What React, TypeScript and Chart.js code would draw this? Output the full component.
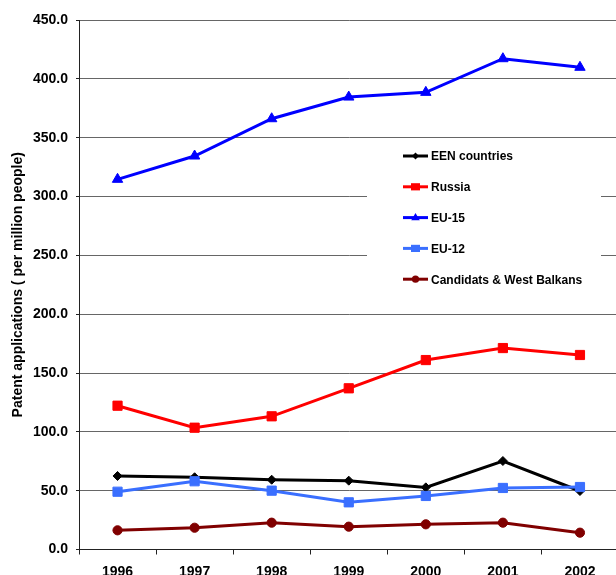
import React, { useEffect, useRef } from 'react';
import { Chart, registerables } from 'chart.js';

Chart.register(...registerables);

const years = ['1996', '1997', '1998', '1999', '2000', '2001', '2002'];
const eenCountries = [62.5, 61.4, 59.3, 58.5, 52.8, 75.2, 49.7];
const russia = [122.2, 103.5, 113.2, 137.0, 161.0, 171.2, 165.3];
const eu15 = [314.6, 334.4, 366.1, 384.5, 388.5, 417.1, 409.8];
const eu12 = [49.1, 58.0, 50.0, 40.1, 45.5, 52.3, 53.1];
const candidats = [16.3, 18.5, 22.8, 19.4, 21.4, 22.8, 14.3];
const seriesLabels = ['EEN countries', 'Russia', 'EU-15', 'EU-12', 'Candidats & West Balkans'];
const yTitle = 'Patent applications ( per million people)';
const yMin = 0;
const yMax = 450;
const yStep = 50;

const FONT = '"Liberation Sans", Arial, sans-serif';

function drawMarker(ctx: CanvasRenderingContext2D, style: string, x: number, y: number, r: number, color: string) {
  ctx.save();
  ctx.fillStyle = color;
  ctx.beginPath();
  if (style === 'rect') {
    ctx.rect(x - r, y - r * 0.8, 2 * r, 1.6 * r);
  } else if (style === 'rectRot') {
    ctx.moveTo(x, y - r);
    ctx.lineTo(x + r, y);
    ctx.lineTo(x, y + r);
    ctx.lineTo(x - r, y);
    ctx.closePath();
  } else if (style === 'triangle') {
    ctx.moveTo(x, y - r);
    ctx.lineTo(x + r * 0.95, y + r * 0.6);
    ctx.lineTo(x - r * 0.95, y + r * 0.6);
    ctx.closePath();
  } else {
    ctx.arc(x, y, r, 0, Math.PI * 2);
  }
  ctx.fill();
  ctx.restore();
}

const boxLegend = {
  id: 'boxLegend',
  beforeDatasetsDraw(chart: any) {
    const ctx: CanvasRenderingContext2D = chart.ctx;
    ctx.save();
    ctx.fillStyle = '#ffffff';
    ctx.fillRect(367, 141, 234, 166);
    chart.data.datasets.forEach((ds: any, i: number) => {
      const y = 156 + i * 30.8;
      ctx.strokeStyle = ds.borderColor;
      ctx.lineWidth = 3;
      ctx.beginPath();
      ctx.moveTo(403, y);
      ctx.lineTo(428, y);
      ctx.stroke();
      const mr = ds.pointStyle === 'rectRot' ? 3.5 : ds.pointStyle === 'circle' ? 3.6 : 4.5;
      drawMarker(ctx, ds.pointStyle, 415.5, y, mr, ds.borderColor);
      ctx.fillStyle = '#000';
      ctx.font = 'bold 12px ' + FONT;
      ctx.textBaseline = 'middle';
      ctx.textAlign = 'left';
      ctx.fillText(ds.label, 431, y + 1);
    });
    ctx.restore();
  },
};

export default function App() {
  const ref = useRef<HTMLCanvasElement | null>(null);

  useEffect(() => {
    if (!ref.current) return;
    const mk = (label: string, data: number[], color: string, style: string, radius: number, order: number) => ({
      label,
      data,
      borderColor: color,
      backgroundColor: color,
      pointBackgroundColor: color,
      pointBorderColor: color,
      pointBorderWidth: 1,
      pointStyle: style,
      pointRadius: radius,
      borderWidth: 3,
      tension: 0,
      order,
    });
    const chart = new Chart(ref.current, {
      type: 'line',
      data: {
        labels: years,
        datasets: [
          mk(seriesLabels[0], eenCountries, '#000000', 'rectRot', 4.5, 5),
          mk(seriesLabels[1], russia, '#FF0000', 'rect', 6.5, 4),
          mk(seriesLabels[2], eu15, '#0000FF', 'triangle', 6, 3),
          mk(seriesLabels[3], eu12, '#3A6FFF', 'rect', 6.5, 2),
          mk(seriesLabels[4], candidats, '#800000', 'circle', 4.6, 1),
        ] as any,
      },
      options: {
        responsive: false,
        animation: false,
        layout: { padding: { top: 20, left: 0, right: 0, bottom: 0 } },
        plugins: {
          legend: { display: false },
          tooltip: { enabled: false },
        },
        scales: {
          x: {
            type: 'category',
            offset: true,
            afterFit: (s: any) => { s.height = 25.5; s.paddingLeft = 0; s.paddingRight = 0; },
            grid: {
              offset: true,
              drawOnChartArea: false,
              drawTicks: true,
              tickLength: 5,
              color: '#222',
              lineWidth: 1,
            },
            border: { display: true, color: '#222', width: 1 },
            ticks: {
              color: '#000',
              padding: 9,
              maxRotation: 0,
              font: { family: FONT, size: 14, weight: 'bold' },
            },
          },
          y: {
            min: yMin,
            max: yMax,
            afterFit: (s: any) => { s.width = 79; s.paddingTop = 0; s.paddingBottom = 0; },
            grid: {
              color: '#666',
              lineWidth: 1,
              drawTicks: true,
              tickLength: 3,
              tickColor: '#222',
            },
            border: { display: true, color: '#222', width: 1 },
            ticks: {
              stepSize: yStep,
              color: '#000',
              padding: 8,
              font: { family: FONT, size: 14, weight: 'bold' },
              callback: (v: any) => Number(v).toFixed(1),
            },
            title: {
              display: true,
              text: yTitle,
              color: '#000',
              padding: { top: 10, bottom: 0 },
              font: { family: FONT, size: 14, weight: 'bold' },
            },
          },
        },
      } as any,
      plugins: [boxLegend],
    });
    return () => chart.destroy();
  }, []);

  return (
    <div style={{ position: 'absolute', left: 0, top: 0, width: 616, height: 575, overflow: 'hidden', background: '#fff' }}>
      <canvas ref={ref} width={626} height={575} style={{ display: 'block' }} />
    </div>
  );
}
